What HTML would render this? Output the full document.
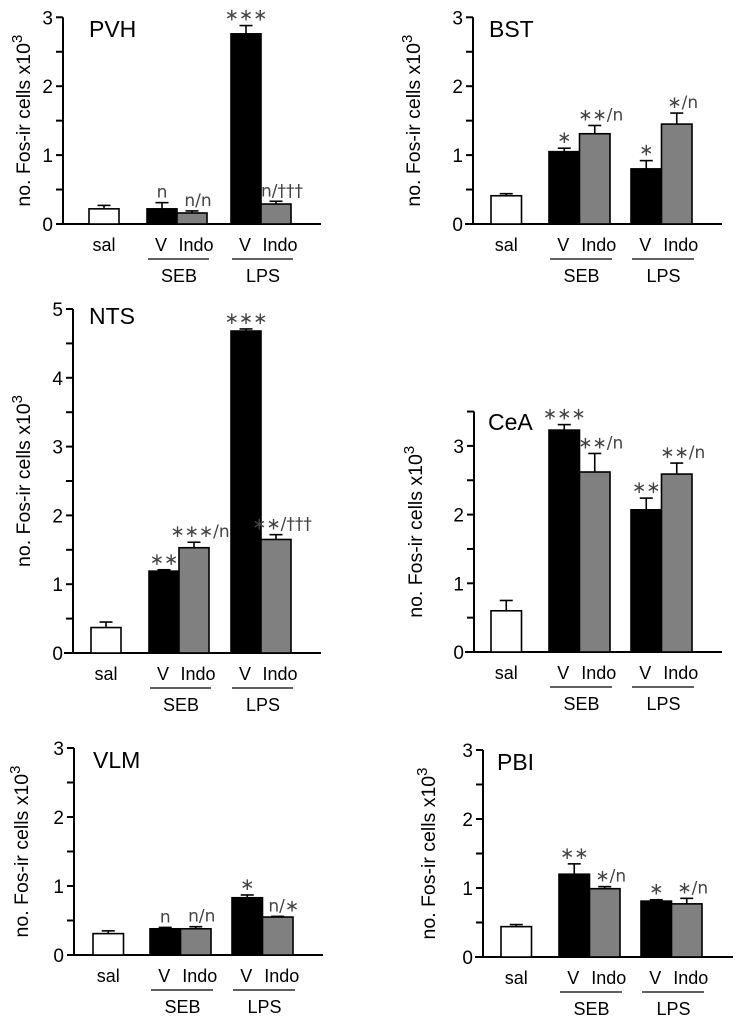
<!DOCTYPE html>
<html><head><meta charset="utf-8">
<style>
html,body{margin:0;padding:0;background:#fff;}
svg{display:block;font-family:"Liberation Sans",Arial,sans-serif;}
</style></head>
<body>
<svg id="fig" width="741" height="1025" viewBox="0 0 741 1025" xmlns="http://www.w3.org/2000/svg"></svg>
<script>
// ---- data ----
const groups = ["sal","SEB V","SEB Indo","LPS V","LPS Indo"];
const pvhValues = [0.22,0.22,0.16,2.76,0.29];
const pvhErrors = [0.05,0.09,0.03,0.12,0.04];
const pvhNotes = ["","n","n/n","***","n/\u2020\u2020\u2020"];
const bstValues = [0.41,1.05,1.31,0.80,1.45];
const bstErrors = [0.03,0.05,0.12,0.12,0.16];
const bstNotes = ["","*","**/n","*","*/n"];
const ntsValues = [0.37,1.19,1.53,4.68,1.65];
const ntsErrors = [0.08,0.02,0.08,0.03,0.07];
const ntsNotes = ["","**","***/n","***","**/\u2020\u2020\u2020"];
const ceaValues = [0.60,3.23,2.62,2.07,2.59];
const ceaErrors = [0.15,0.08,0.27,0.17,0.16];
const ceaNotes = ["","***","**/n","**","**/n"];
const vlmValues = [0.31,0.38,0.38,0.83,0.55];
const vlmErrors = [0.04,0.02,0.03,0.04,0.01];
const vlmNotes = ["","n","n/n","*","n/*"];
const pbiValues = [0.44,1.20,0.99,0.81,0.77];
const pbiErrors = [0.03,0.15,0.03,0.02,0.08];
const pbiNotes = ["","**","*/n","*","*/n"];
const tickLabels3 = ["0","1","2","3"];
const tickLabels5 = ["0","1","2","3","4","5"];

const NS="http://www.w3.org/2000/svg";
const svg=document.getElementById('fig');
function mk(tag,attrs,parent){const e=document.createElementNS(NS,tag);for(const k in attrs)e.setAttribute(k,attrs[k]);(parent||svg).appendChild(e);return e;}
const fills=["#fff","#000","#808080","#000","#808080"];

function panel(cfg){
  const g=mk('g',{});
  
  
  const y=v=>cfg.y0-v*cfg.ppu;
  const ya=mk('line',{x1:cfg.ax,y1:y(cfg.ymax),x2:cfg.ax,y2:cfg.y0+1,stroke:'#000','stroke-width':2},g);
  
  
  const xa=mk('line',{x1:cfg.xs,y1:cfg.y0,x2:cfg.xe,y2:cfg.y0,stroke:'#000','stroke-width':2},g);
  
  
  for(let v=0;v<=cfg.ymax+1e-6;v+=0.5){
    const t=mk('line',{x1:cfg.ax-7,y1:y(v),x2:cfg.ax,y2:y(v),stroke:'#000','stroke-width':2},g);
    
    
  }
  cfg.ticks.forEach((lab,i)=>{
    const t=mk('text',{x:cfg.ax-10,y:y(i)+7,'font-size':19,'text-anchor':'end',fill:'#000'},g);
    t.textContent=lab;
    
    
  });
  const cy=(y(cfg.ymax)+cfg.y0)/2;
  const tt=mk('text',{x:cfg.tx,y:cy,'font-size':19.5,'text-anchor':'middle',transform:`rotate(-90 ${cfg.tx} ${cy})`,fill:'#000'},g);
  
  
  tt.appendChild(document.createTextNode('no. Fos-ir cells x10'));
  const sp=mk('tspan',{dy:-8,'font-size':15},tt);sp.textContent='3';
  const ti=mk('text',{x:cfg.titleX,y:cfg.titleY,'font-size':23,fill:'#000'},g);
  ti.textContent=cfg.id;
  
  
  const lefts=[cfg.a,cfg.b,cfg.b+cfg.w,cfg.c,cfg.c+cfg.w];
  cfg.values.forEach((v,i)=>{
    const x=lefts[i],top=y(v),et=y(v+cfg.errors[i]);
    const cx=x+cfg.w/2;
    const e1=mk('line',{x1:cx,y1:top,x2:cx,y2:et,stroke:'#000','stroke-width':1.6},g);
    
    
    const e2=mk('line',{x1:cx-6.5,y1:et,x2:cx+6.5,y2:et,stroke:'#000','stroke-width':1.6},g);
    
    
    const r=mk('rect',{x:x,y:top,width:cfg.w,height:cfg.y0-top,fill:fills[i],stroke:'#000','stroke-width':1.6},g);
    
    
    if(cfg.notes[i]){
      const n=mk('text',{x:cx+(i===2||i===4?6:0),y:et-5,'font-size':17,'text-anchor':'middle',fill:'#444','font-family':'"DejaVu Sans","Liberation Sans",sans-serif'},g);
      n.textContent=cfg.notes[i].replace(/\*/g,'\u2217');
      
      
    }
  });
  const ly=cfg.y0+27;
  const labs=[["sal",cfg.a+cfg.w/2],["V",cfg.b+cfg.w/2],["Indo",cfg.b+cfg.w*1.5],["V",cfg.c+cfg.w/2],["Indo",cfg.c+cfg.w*1.5]];
  labs.forEach(([s,x])=>{
    const t=mk('text',{x:x+(s==="Indo"?4:(s==="V"?-1:0)),y:ly,'font-size':18,'text-anchor':'middle',fill:'#000'},g);
    t.textContent=s;
    
    
  });
  [["SEB",cfg.b],["LPS",cfg.c]].forEach(([s,x])=>{
    const l=mk('line',{x1:x+1,y1:cfg.y0+35,x2:x+2*cfg.w+2,y2:cfg.y0+35,stroke:'#000','stroke-width':1.3},g);
    
    
    const t=mk('text',{x:x+cfg.w+2,y:cfg.y0+58,'font-size':18,'text-anchor':'middle',fill:'#000'},g);
    t.textContent=s;
    
    
  });
}
panel({id:'PVH',values:pvhValues,errors:pvhErrors,notes:pvhNotes,ticks:tickLabels3,ax:63,y0:224,ppu:68.9,ymax:3,xs:63,xe:321,tx:30,titleX:89,titleY:37,a:89,b:147,c:231,w:30});
panel({id:'BST',values:bstValues,errors:bstErrors,notes:bstNotes,ticks:tickLabels3,ax:473,y0:224,ppu:68.9,ymax:3,xs:465,xe:722,tx:420,titleX:489,titleY:37,a:491,b:549,c:631,w:30.5});
panel({id:'NTS',values:ntsValues,errors:ntsErrors,notes:ntsNotes,ticks:tickLabels5,ax:73,y0:653,ppu:68.8,ymax:5,xs:64,xe:321,tx:30,titleX:89,titleY:324,a:91,b:149,c:231,w:30});
panel({id:'CeA',values:ceaValues,errors:ceaErrors,notes:ceaNotes,ticks:tickLabels3,ax:474,y0:652,ppu:68.7,ymax:3.5,xs:465,xe:722,tx:422,titleX:488,titleY:430,a:491,b:549,c:631,w:30.5});
panel({id:'VLM',values:vlmValues,errors:vlmErrors,notes:vlmNotes,ticks:tickLabels3,ax:74,y0:955,ppu:69,ymax:3,xs:67,xe:323,tx:28,titleX:93,titleY:768,a:93,b:150,c:232,w:30.5});
panel({id:'PBI',values:pbiValues,errors:pbiErrors,notes:pbiNotes,ticks:tickLabels3,ax:483,y0:957,ppu:69,ymax:3,xs:475,xe:733,tx:435,titleX:497,titleY:770,a:501,b:559,c:641,w:30.5});
</script>
</body></html>
